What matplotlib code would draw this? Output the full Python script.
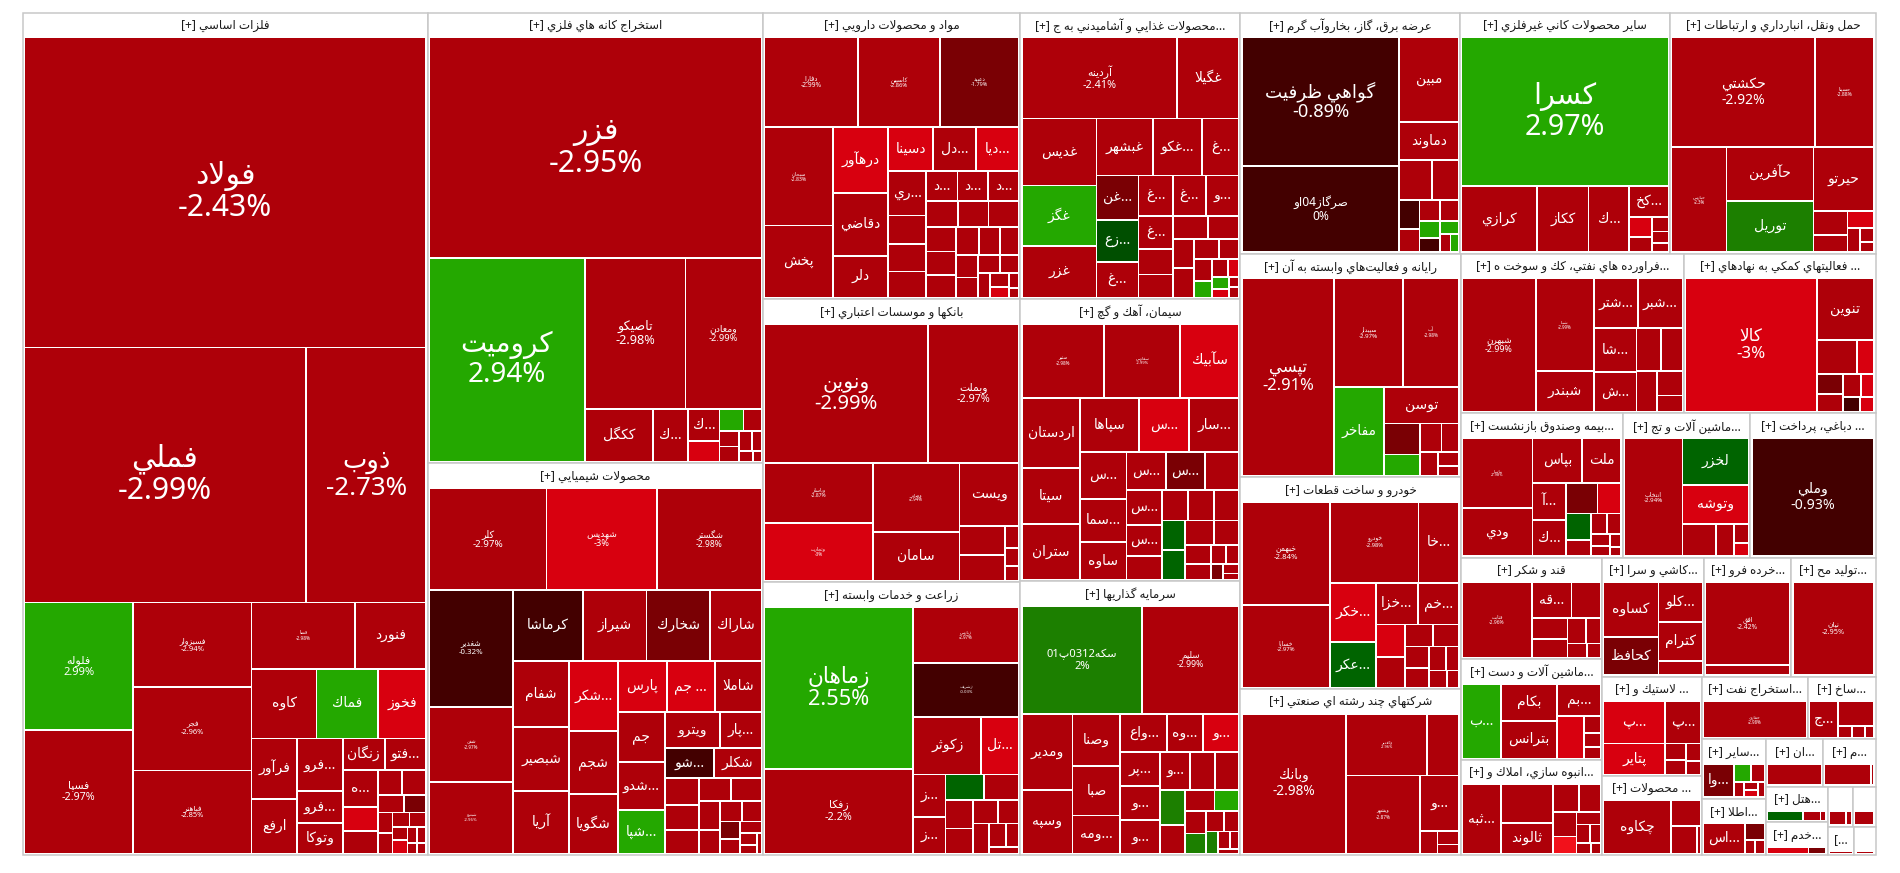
import re
import matplotlib
matplotlib.use("Agg")
import matplotlib.pyplot as plt
from matplotlib.patches import Rectangle

# latin text and digits from Noto Sans, persian letters fall back to DejaVu Sans
plt.rcParams["font.family"] = ["Noto Sans", "DejaVu Sans"]

# ---------------------------------------------------------------- data
# industry groups, in the order the treemap packs them
SECTOR_NAMES = [
    "فلزات اساسي [+]",
    "استخراج كانه هاي فلزي [+]",
    "محصولات شيميايي [+]",
    "مواد و محصولات دارويي [+]",
    "بانكها و موسسات اعتباري [+]",
    "زراعت و خدمات وابسته [+]",
    "...محصولات غذايي و آشاميدني به ج [+]",
    "سيمان، آهك و گچ [+]",
    "سرمايه گذاريها [+]",
    "عرضه برق، گاز، بخاروآب گرم [+]",
    "ساير محصولات كاني غيرفلزي [+]",
    "حمل ونقل، انبارداري و ارتباطات [+]",
    "رايانه و فعاليت\u200cهاي وابسته به آن [+]",
    "خودرو و ساخت قطعات [+]",
    "شركتهاي چند رشته اي صنعتي [+]",
    "...فراورده هاي نفتي، كك و سوخت ه [+]",
    "... فعاليتهاي كمكي به نهادهاي [+]",
    "...بيمه وصندوق بازنشست [+]",
    "...ماشين آلات و تج [+]",
    "... دباغي، پرداخت [+]",
    "قند و شكر [+]",
    "...ماشين آلات و دست [+]",
    "...انبوه سازي، املاك و [+]",
    "...كاشي و سرا [+]",
    "...خرده فرو [+]",
    "...توليد مح [+]",
    "... لاستيك و [+]",
    "... محصولات [+]",
    "...استخراج نفت [+]",
    "...ساخ [+]",
    "...ساير [+]",
    "...اطلا [+]",
    "...ان [+]",
    "...م [+]",
    "...هتل [+]",
    "...خدم [+]",
    "", "", "[...", "",
]
SECTOR_VALUES = [
    340.6, 150.8, 131.0, 73.5, 72.6, 70.0, 62.9, 62.0, 60.1, 52.8,
    50.6, 49.4, 49.1, 46.6, 36.5, 35.5, 30.5, 23.3, 18.4, 18.0,
    14.3, 14.2, 13.4, 12.1, 10.4, 10.0, 9.9, 7.9, 6.6, 4.2,
    3.8, 3.6, 2.7, 2.5, 2.2, 2.0, 1.0, 0.9, 0.75, 0.6,
]

# stocks of each group, same order as SECTOR_NAMES:
# (symbol as shown, market value, change %)
S01 = [("فولاد", 125.6, -2.43), ("فملي", 72.4, -2.99), ("ذوب", 30.9, -2.73),
       ("فلوله", 14.0, 2.99), ("فسپا", 13.6, -2.97), ("فسبزوار", 10.1, -2.94),
       ("فجر", 9.9, -2.96), ("فباهنر", 9.9, -2.85), ("فسا", 6.9, -2.98),
       ("فنورد", 4.75, -2.9), ("كاوه", 4.55, -2.8), ("فماك", 4.3, 2.9),
       ("فخوز", 3.4, -3), ("فرآور", 2.8, -2.9), ("ارفع", 2.5, -2.9),
       ("...فرو", 2.4, -2.9), ("...فرو", 1.45, -2.9), ("وتوكا", 1.4, -2.9),
       ("زنگان", 1.35, -2.9), ("...فتو", 1.33, -2.9), ("...ه", 1.3, -2.9),
       ("", 0.86, -3), ("", 0.8, -2.9), ("", 0.6, -2.9), ("", 0.6, -2.9),
       ("", 0.45, -2.9), ("", 0.4, -1.5), ("", 0.3, -2.9), ("", 0.3, -2.9),
       ("", 0.25, -2.9), ("", 0.25, -2.9), ("", 0.2, -2.9), ("", 0.2, -3),
       ("", 0.15, -2.9), ("", 0.15, -2.9), ("", 0.1, -2.9), ("", 0.1, -2.9)]
S02 = [("فزر", 73.5, -2.95), ("كروميت", 31.9, 2.94), ("تاصيكو", 15.3, -2.98),
       ("ومعادن", 11.6, -2.99), ("ككگل", 3.6, -2.9), ("...ك", 1.86, -2.9),
       ("...ك", 1.0, -2.9), ("", 0.65, -3), ("", 0.53, 2.9), ("", 0.4, -2.9),
       ("", 0.3, -2.9), ("", 0.3, -2.9), ("", 0.25, -2.9), ("", 0.2, -2.9),
       ("", 0.15, -2.9), ("", 0.1, -2.9)]
S03 = [("كلر", 12.0, -2.97), ("شهديس", 11.3, -3), ("شگستر", 10.7, -2.98),
       ("شغدير", 9.8, -0.32), ("شفن", 6.3, -2.97), ("شپترو", 6.0, -2.96),
       ("كرماشا", 5.0, -0.5), ("شيراز", 4.5, -2.9), ("شخارك", 4.5, -1.6),
       ("شاراك", 3.7, -2.9), ("شفام", 3.7, -2.9), ("شبصير", 3.6, -2.9),
       ("آريا", 3.5, -2.9), ("...شكر", 3.4, -3), ("شجم", 3.1, -2.9),
       ("شگويا", 2.9, -2.9), ("پارس", 2.5, -3), ("... جم", 2.45, -3),
       ("شاملا", 2.4, -2.9), ("جم", 2.35, -2.9), ("...شدو", 2.3, -2.9),
       ("...شپا", 2.05, 2.8), ("ويترو", 2.0, -2.9), ("...پار", 1.5, -2.9),
       ("...شو", 1.46, -0.5), ("شكلر", 1.43, -2.9), ("", 0.9, -2.9),
       ("", 0.85, -2.9), ("", 0.8, -2.9), ("", 0.75, -2.9), ("", 0.7, -2.9),
       ("", 0.6, -2.9), ("", 0.5, -2.9), ("", 0.45, -2.9), ("", 0.4, -2.9),
       ("", 0.35, -1.5), ("", 0.3, -2.9), ("", 0.25, -2.9), ("", 0.2, -2.9),
       ("", 0.15, -2.9), ("", 0.1, -2.9)]
S04 = [("دفارا", 8.5, -2.99), ("كاسپين", 7.5, -2.86), ("دعبيد", 7.2, -1.79),
       ("سبحان", 6.8, -2.83), ("پخش", 5.0, -2.9), ("درهآور", 3.7, -3),
       ("دقاضي", 3.5, -2.9), ("دلر", 2.35, -2.9), ("دسينا", 2.0, -3),
       ("...دل", 1.9, -2.9), ("...ديا", 1.9, -3), ("...ري", 1.7, -2.9),
       ("", 1.1, -2.9), ("", 1.05, -2.9), ("", 1.0, -2.9), ("...د", 0.95, -2.9),
       ("...د", 0.93, -2.9), ("...د", 0.92, -2.9), ("", 0.84, -2.9),
       ("", 0.8, -2.9), ("", 0.8, -2.9), ("", 0.75, -2.9), ("", 0.7, -2.9),
       ("", 0.7, -2.9), ("", 0.65, -2.9), ("", 0.6, -2.9), ("", 0.55, -2.9),
       ("", 0.5, -2.9), ("", 0.45, -2.9), ("", 0.4, -2.9), ("", 0.35, -2.9),
       ("", 0.3, -2.9), ("", 0.25, -2.9), ("", 0.2, -3), ("", 0.15, -2.9),
       ("", 0.1, -2.9)]
S05 = [("ونوين", 22.4, -2.99), ("وبملت", 12.5, -2.97), ("وپاسار", 6.4, -2.87),
       ("وتجارت", 6.2, -3), ("وصادر", 5.9, -2.94), ("سامان", 4.2, -2.9),
       ("ويست", 3.7, -2.9), ("", 1.3, -2.9), ("", 1.15, -2.9), ("", 0.3, -2.9),
       ("", 0.25, -2.9), ("", 0.2, -2.9)]
S06 = [("زماهان", 24.5, 2.55), ("زفكا", 12.8, -2.2), ("زپارس", 6.0, -2.97),
       ("زشريف", 5.8, -0.03), ("زكوثر", 4.0, -2.9), ("...تل", 2.2, -3),
       ("...ز", 1.4, -2.9), ("...ز", 1.2, -2.9), ("", 1.0, 1.5), ("", 0.9, -2.9),
       ("", 0.8, -2.9), ("", 0.7, -2.9), ("", 0.6, -2.9), ("", 0.5, -2.9),
       ("", 0.5, -2.9), ("", 0.4, -2.9), ("", 0.3, -2.9), ("", 0.2, -2.9)]
S07 = [("آردينه", 12.6, -2.41), ("غگيلا", 5.0, -2.9), ("غديس", 5.0, -2.9),
       ("غگز", 4.5, 2.9), ("غزر", 3.85, -2.9), ("غبشهر", 3.2, -2.9),
       ("...غكو", 2.8, -2.9), ("...غ", 2.1, -2.9), ("...غن", 1.85, -1.5),
       ("...زع", 1.76, 0.5), ("...غ", 1.5, -2.9), ("...غ", 1.37, -2.9),
       ("...غ", 1.33, -2.9), ("...و", 1.33, -2.9), ("...غ", 1.15, -2.9),
       ("", 0.9, -2.9), ("", 0.8, -2.9), ("", 0.8, -2.9), ("", 0.7, -2.9),
       ("", 0.6, -2.9), ("", 0.6, -2.9), ("", 0.5, -2.9), ("", 0.4, -2.9),
       ("", 0.4, -2.9), ("", 0.3, 2.9), ("", 0.3, -2.9), ("", 0.2, -3),
       ("", 0.2, 2.9), ("", 0.15, -3), ("", 0.1, -2.9), ("", 0.1, -2.9)]
S08 = [("ستير", 6.2, -2.98), ("سفارس", 5.7, -2.99), ("سآبيك", 4.4, -3),
       ("اردستان", 4.1, -2.9), ("سيتا", 3.3, -2.9), ("ستران", 3.3, -2.9),
       ("سپاها", 3.2, -2.9), ("...س", 2.7, -3), ("...سار", 2.7, -2.9),
       ("...س", 2.2, -2.9), ("...سما", 2.0, -2.9), ("ساوه", 1.75, -2.9),
       ("...س", 1.5, -2.9), ("...س", 1.5, -1.5), ("", 1.3, -2.9),
       ("...س", 1.24, -2.9), ("...س", 1.1, -2.9), ("", 0.85, -2.9),
       ("", 0.8, -2.9), ("", 0.8, -2.9), ("", 0.75, -2.9), ("", 0.7, 1.0),
       ("", 0.7, 1.0), ("", 0.7, -2.9), ("", 0.6, -2.9), ("", 0.5, -2.9),
       ("", 0.4, -2.9), ("", 0.3, -2.9), ("", 0.25, -2.9), ("", 0.2, -1.0),
       ("", 0.15, -2.9), ("", 0.1, -2.9)]
S09 = [("سكه0312پ01", 12.5, 2.0), ("سليم", 10.0, -2.99), ("ومدير", 3.7, -2.9),
       ("وسپه", 3.1, -2.9), ("وصنا", 2.4, -2.9), ("صبا", 2.25, -2.9),
       ("...ومه", 1.75, -2.9), ("...واع", 1.7, -2.9), ("...وه", 1.3, -2.9),
       ("...و", 1.3, -3), ("...پر", 1.3, -2.9), ("...و", 1.3, -2.9),
       ("...و", 1.26, -2.9), ("...و", 1.1, -2.9), ("...و", 0.9, -2.9),
       ("", 0.87, -2.9), ("", 0.85, 2.2), ("", 0.7, -2.9), ("", 0.6, -2.9),
       ("", 0.5, 2.9), ("", 0.45, -2.9), ("", 0.4, 2.2), ("", 0.35, -2.9),
       ("", 0.3, -2.9), ("", 0.25, 2.2), ("", 0.2, -2.9), ("", 0.15, -2.9),
       ("", 0.1, -2.9)]
S10 = [("گواهي ظرفيت", 20.9, -0.89), ("صرگاز04او", 14.1, 0.0), ("مبين", 5.2, -2.9),
       ("دماوند", 2.35, -2.9), ("", 1.36, -2.9), ("", 1.1, -2.9), ("", 0.6, -0.5),
       ("", 0.5, -2.9), ("", 0.45, -2.9), ("", 0.4, -2.9), ("", 0.35, 2.9),
       ("", 0.3, -0.5), ("", 0.25, 2.9), ("", 0.2, -2.9), ("", 0.15, 2.9)]
S11 = [("كسرا", 30.8, 2.97), ("كرازي", 5.0, -2.9), ("ككاز", 3.4, -2.9),
       ("...ك", 2.7, -2.9), ("...كخ", 1.2, -2.9), ("", 0.45, -3), ("", 0.35, -2.9),
       ("", 0.25, -2.9), ("", 0.2, -2.9), ("", 0.15, -2.9)]
S12 = [("حكشتي", 15.7, -2.92), ("حسينا", 6.5, -2.88), ("حپارس", 5.8, -2.3),
       ("حآفرين", 4.7, -2.9), ("توريل", 4.5, 2.2), ("حيرتو", 3.9, -2.9),
       ("", 0.8, -2.9), ("", 0.6, -2.9), ("", 0.45, -3), ("", 0.3, -2.9),
       ("", 0.2, -2.9), ("", 0.15, -2.9)]
S13 = [("تپسي", 17.8, -2.91), ("سپيدار", 7.3, -2.97), ("آپ", 6.0, -2.98),
       ("مفاخر", 4.35, 2.9), ("توسن", 2.7, -2.9), ("", 1.1, -1.5), ("", 0.75, 2.9),
       ("", 0.6, -2.9), ("", 0.5, -2.9), ("", 0.4, -2.9), ("", 0.3, -2.9),
       ("", 0.2, -2.9)]
S14 = [("خبهمن", 8.8, -2.84), ("خساپا", 7.05, -2.97), ("خودرو", 6.9, -2.98),
       ("...خا", 3.2, -2.9), ("...خكر", 2.6, -3), ("...عكر", 2.0, 1.5),
       ("...خزا", 1.67, -2.9), ("...خم", 1.67, -2.9), ("", 0.9, -3),
       ("", 0.86, -2.9), ("", 0.6, -2.9), ("", 0.55, -2.9), ("", 0.5, -2.9),
       ("", 0.45, -2.9), ("", 0.4, -2.9), ("", 0.3, -2.9), ("", 0.3, -2.9),
       ("", 0.2, -2.9)]
S15 = [("وبانك", 14.7, -2.98), ("وكغدير", 5.1, -2.96), ("", 2.0, -2.9),
       ("وبشهر", 5.85, -2.87), ("...و", 2.2, -2.9), ("", 0.4, -2.9),
       ("", 0.3, -2.9), ("", 0.2, -2.9)]
S16 = [("شبهرن", 9.4, -2.99), ("شپنا", 5.2, -2.99), ("شبندر", 2.3, -2.9),
       ("...شتر", 2.1, -2.9), ("...شبر", 2.1, -2.9), ("...شا", 1.8, -2.9),
       ("...ش", 1.6, -2.9), ("", 1.0, -2.9), ("", 0.9, -2.9), ("", 0.8, -2.9),
       ("", 0.6, -2.9), ("", 0.4, -2.9)]
S17 = [("كالا", 16.8, -3), ("تنوين", 3.4, -2.9), ("", 1.3, -2.9), ("", 0.55, -3),
       ("", 0.5, -1.5), ("", 0.45, -2.9), ("", 0.4, -2.9), ("", 0.3, -3),
       ("", 0.25, -0.5), ("", 0.2, -3)]
S18 = [("بپاسار", 5.1, -2.98), ("ودي", 3.5, -2.9), ("بپاس", 2.3, -2.9),
       ("ملت", 1.8, -2.9), ("...آ", 1.3, -2.9), ("...ك", 1.26, -2.9),
       ("", 1.0, -1.5), ("", 0.76, -3), ("", 0.68, 1.0), ("", 0.4, -2.9),
       ("", 0.35, -2.9), ("", 0.3, -2.9), ("", 0.25, -2.9), ("", 0.2, -2.9),
       ("", 0.15, -2.9), ("", 0.1, -2.9)]
S19 = [("انتخاب", 7.1, -2.94), ("لخزر", 3.2, 1.5), ("وتوشه", 2.7, -3),
       ("", 1.1, -2.9), ("", 0.6, -2.9), ("", 0.3, -2.9), ("", 0.2, -3)]
S20 = [("وملي", 14.9, -0.93)]
S21 = [("قثابت", 5.6, -2.96), ("...قه", 1.5, -2.9), ("", 1.1, -2.9),
       ("", 0.8, -2.9), ("", 0.7, -2.9), ("", 0.5, -2.9), ("", 0.4, -2.9),
       ("", 0.3, -2.9), ("", 0.2, -2.9)]
S22 = [("...ب", 3.0, 2.9), ("بكام", 2.2, -2.9), ("بترانس", 2.2, -2.9),
       ("...بم", 1.45, -2.9), ("", 1.2, -3), ("", 0.3, -2.9), ("", 0.25, -2.9),
       ("", 0.2, -2.9)]
S23 = [("...ثبه", 2.7, -2.9), ("", 2.0, -2.9), ("ثالوند", 1.56, -2.9),
       ("", 0.7, -2.9), ("", 0.6, -2.9), ("", 0.58, -2.9), ("", 0.4, -4.9),
       ("", 0.3, -2.9), ("", 0.25, -2.9), ("", 0.2, -2.9), ("", 0.15, -2.9),
       ("", 0.1, -2.9)]
S24 = [("كساوه", 2.9, -2.9), ("كحافظ", 2.05, -1.5), ("...كلو", 1.7, -2.9),
       ("كترام", 1.65, -2.9), ("", 0.6, -2.9)]
S25 = [("افق", 7.0, -2.42), ("", 0.85, -2.9)]
S26 = [("نيان", 7.9, -2.95)]
S27 = [("...پ", 2.6, -3), ("پتاير", 1.9, -3), ("...پ", 1.5, -2.9),
       ("", 0.35, -2.9), ("", 0.3, -2.9), ("", 0.25, -2.9), ("", 0.2, -2.9)]
S28 = [("چكاوه", 3.6, -2.9), ("", 0.75, -2.9), ("", 0.7, -2.9), ("", 0.1, -2.9)]
S29 = [("حفاري", 3.4, -2.98)]
S30 = [("...ج", 1.0, -2.9), ("", 0.85, -2.9), ("", 0.15, -2.9), ("", 0.15, -2.9),
       ("", 0.1, -2.9)]
S31 = [("...وا", 1.0, -1.5), ("", 0.3, 2.9), ("", 0.25, -2.9), ("", 0.15, -2.9),
       ("", 0.1, -2.9), ("", 0.1, -3), ("", 0.1, -2.9)]
S32 = [("...اس", 1.35, -2.9), ("", 0.35, -1.5), ("", 0.15, -2.9), ("", 0.15, -2.9)]
S33 = [("", 0.9, -2.9)]
S34 = [("", 0.8, -2.9), ("", 0.05, -2.9)]
S35 = [("", 0.3, 1.0), ("", 0.15, -2.9), ("", 0.05, -2.9)]
S36 = [("", 0.3, -3), ("", 0.13, -1.5)]
S37 = [("", 0.3, -2.9), ("", 0.1, -2.9)]
S38 = [("", 0.3, -2.9)]
S39 = [("", 0.2, -2.9)]
S40 = [("", 0.15, -2.9)]

SECTOR_STOCKS = [S01, S02, S03, S04, S05, S06, S07, S08, S09, S10,
                 S11, S12, S13, S14, S15, S16, S17, S18, S19, S20,
                 S21, S22, S23, S24, S25, S26, S27, S28, S29, S30,
                 S31, S32, S33, S34, S35, S36, S37, S38, S39, S40]


# ---------------------------------------------------------------- persian text
# matplotlib has no shaping / bidi, so pick presentation forms by hand
DUAL = {"ب": 0xFE8F, "ت": 0xFE95, "ث": 0xFE99, "ج": 0xFE9D, "ح": 0xFEA1,
        "خ": 0xFEA5, "س": 0xFEB1, "ش": 0xFEB5, "ص": 0xFEB9, "ض": 0xFEBD,
        "ط": 0xFEC1, "ظ": 0xFEC5, "ع": 0xFEC9, "غ": 0xFECD, "ف": 0xFED1,
        "ق": 0xFED5, "ك": 0xFED9, "ل": 0xFEDD, "م": 0xFEE1, "ن": 0xFEE5,
        "ه": 0xFEE9, "ي": 0xFEF1, "ئ": 0xFE89, "پ": 0xFB56, "چ": 0xFB7A,
        "گ": 0xFB92}
RIGHT = {"ا": 0xFE8D, "آ": 0xFE81, "أ": 0xFE83, "إ": 0xFE87, "ؤ": 0xFE85,
         "د": 0xFEA9, "ذ": 0xFEAB, "ر": 0xFEAD, "ز": 0xFEAF, "و": 0xFEED,
         "ة": 0xFE93, "ى": 0xFEEF, "ژ": 0xFB8A}
LAM_ALEF = {"ا": 0xFEFB, "آ": 0xFEF5, "أ": 0xFEF7, "إ": 0xFEF9}


def shape_word(w):
    out = []
    i = 0
    while i < len(w):
        c = w[i]
        joined = i > 0 and w[i - 1] in DUAL
        nxt = w[i + 1] if i + 1 < len(w) else ""
        if c == "ل" and nxt in LAM_ALEF:
            out.append(chr(LAM_ALEF[nxt] + (1 if joined else 0)))
            i += 2
            continue
        if c in DUAL:
            to_next = nxt in DUAL or nxt in RIGHT
            k = 3 if (joined and to_next) else 1 if joined else 2 if to_next else 0
            out.append(chr(DUAL[c] + k))
        elif c in RIGHT:
            out.append(chr(RIGHT[c] + (1 if joined else 0)))
        elif c != "\u200c":
            out.append(c)
        i += 1
    return "".join(reversed(out))


def rtl(s):
    s = s.replace("ی", "ي").replace("ک", "ك")
    if not re.search("[\u0600-\u06FF]", s):
        return s
    parts = re.findall(r"\[\+\]|[0-9]+|[\u0600-\u06FF\u200c]+|.", s)
    return "".join(shape_word(p) if re.match("[\u0600-\u06FF]", p) else p
                   for p in reversed(parts))


# ---------------------------------------------------------------- layout
def squarify(values, x0, y0, x1, y1):
    rects = []
    remaining = float(sum(values))
    i0, n = 0, len(values)
    while i0 < n:
        dx, dy = x1 - x0, y1 - y0
        row = lo = hi = values[i0]
        alpha = max(dy / dx, dx / dy) / remaining
        beta = row * row * alpha
        best = max(hi / beta, beta / lo)
        i1 = i0 + 1
        while i1 < n:
            v = values[i1]
            s = row + v
            beta = s * s * alpha
            r = max(max(hi, v) / beta, beta / min(lo, v))
            if r > best:
                break
            row, lo, hi, best = s, min(lo, v), max(hi, v), r
            i1 += 1
        share = row / remaining
        if dx < dy:
            h = dy * share
            x = x0
            for v in values[i0:i1]:
                w = dx * v / row
                rects.append((x, y0, w, h))
                x += w
            y0 += h
        else:
            w = dx * share
            y = y0
            for v in values[i0:i1]:
                h = dy * v / row
                rects.append((x0, y, w, h))
                y += h
            x0 += w
        remaining -= row
        i0 = i1
    return rects


def tile_color(chg):
    if chg <= -3.5:
        return "#F2111B"
    if chg <= -2.995:
        return "#D8000F"
    if chg <= -2:
        return "#AE0009"
    if chg <= -1:
        return "#7A0004"
    if chg <= 0:
        return "#430000"
    if chg < 1:
        return "#004F00"
    if chg < 2:
        return "#006400"
    if chg < 2.5:
        return "#1C7F00"
    return "#24A800"


fig = plt.figure(figsize=(19, 8.73), dpi=100)
ax = fig.add_axes([0, 0, 1, 1])
ax.set_xlim(0, 1900)
ax.set_ylim(873, 0)
ax.axis("off")
renderer = fig.canvas.get_renderer()


def put_text(x, y, s, size, max_w, max_h, min_size=0.0, **kw):
    t = ax.text(x, y, s, fontsize=size, ha="center", va="center", **kw)
    bb = t.get_window_extent(renderer)
    k = min(1.0, max_w / max(bb.width, 1), max_h / max(bb.height, 1))
    if size * k < min_size:
        t.remove()
        return None
    t.set_fontsize(size * k)
    return t


X0, Y0, X1, Y1 = 22.5, 12.5, 1875.5, 855.0
HEAD, PAD, GAP = 24.7, 1.4, 0.9

boxes = squarify(SECTOR_VALUES, X0, Y0, X1, Y1)
for name, stocks, (sx, sy, sw, sh) in zip(SECTOR_NAMES, SECTOR_STOCKS, boxes):
    ax.add_patch(Rectangle((sx, sy), sw, sh, facecolor="white",
                           edgecolor="#c8c8c8", lw=1.1, zorder=1))
    if name:
        put_text(sx + sw / 2, sy + 13.0, rtl(name), 8.6, sw - 6, 22,
                 color="#1a1a1a", zorder=4)
    ix0, iy0, ix1, iy1 = sx + PAD, sy + HEAD, sx + sw - PAD, sy + sh - PAD
    if iy1 - iy0 < 2:
        continue
    scale = (sw * sh) / ((ix1 - ix0) * (iy1 - iy0))
    tiles = squarify([v for _, v, _ in stocks], ix0, iy0, ix1, iy1)
    for (sym, val, chg), (tx, ty, tw, th) in zip(stocks, tiles):
        ax.add_patch(Rectangle((tx + GAP, ty + GAP), tw - 2 * GAP, th - 2 * GAP,
                               facecolor=tile_color(chg), lw=0, zorder=2))
        if not sym:
            continue
        cx, cy = tx + tw / 2, ty + th / 2
        big = tw * th * scale / 1000.0
        if big >= 6.0:
            px = min(30.0, max(3.5, 0.85 * big - 1.2))
            put_text(cx, cy, rtl(sym) + "\n" + f"{chg:g}%", px * 0.72,
                     tw * 0.9, th * 0.9, color="white", linespacing=1.1, zorder=3)
        elif tw >= 26 and th >= 22:
            put_text(cx, cy, rtl(sym), 10, tw - 5, th - 4, min_size=6,
                     color="white", zorder=3)

fig.savefig("out.png", dpi=100, facecolor="white")
